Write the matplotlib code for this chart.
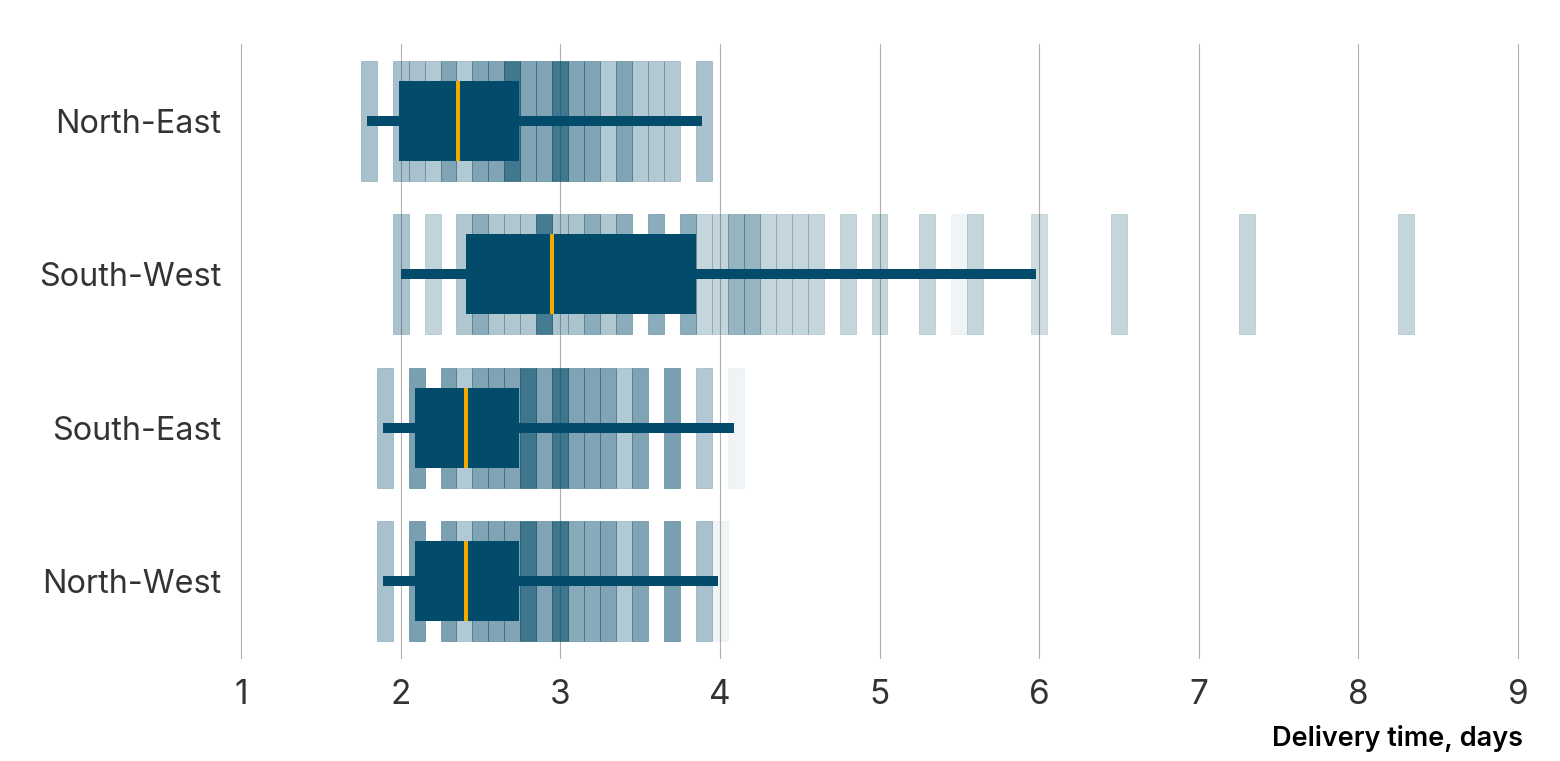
import numpy as np
import matplotlib.pyplot as plt

plt.rcParams['font.family'] = ['Inter', 'DejaVu Sans']

regions = ["North-East", "South-West", "South-East", "North-West"]

# histogram strips: bin centres (days) and shading weight per bin
ne_bins = [1.8, 2.0, 2.1, 2.2, 2.3, 2.4, 2.5, 2.6, 2.7, 2.8, 2.9, 3.0, 3.1, 3.2, 3.3, 3.4, 3.5, 3.6, 3.7, 3.9]
ne_weight = [.34, .34, .34, .30, .50, .30, .50, .50, .75, .50, .50, .75, .50, .50, .30, .50, .30, .30, .30, .34]

sw_bins = [2.0, 2.2, 2.4, 2.5, 2.6, 2.7, 2.8, 2.9, 3.0, 3.1, 3.2, 3.3, 3.4, 3.6, 3.8, 3.9, 4.0, 4.1,
           4.2, 4.3, 4.4, 4.5, 4.6, 4.8, 5.0, 5.3, 5.5, 5.6, 6.0, 6.5, 7.3, 8.3]
sw_weight = [.33, .24, .31, .46, .31, .31, .31, .73, .33, .33, .46, .31, .46, .46, .46, .23, .23, .41,
             .41, .23, .23, .23, .23, .23, .23, .23, .06, .23, .19, .23, .23, .23]

se_bins = [1.9, 2.1, 2.3, 2.4, 2.5, 2.6, 2.7, 2.8, 2.9, 3.0, 3.1, 3.2, 3.3, 3.4, 3.5, 3.7, 3.9, 4.1]
se_weight = [.34, .53, .52, .30, .50, .50, .50, .76, .50, .76, .50, .50, .50, .30, .50, .53, .30, .06]

nw_bins = [1.9, 2.1, 2.3, 2.4, 2.5, 2.6, 2.7, 2.8, 2.9, 3.0, 3.1, 3.2, 3.3, 3.4, 3.5, 3.7, 3.9, 4.0]
nw_weight = [.34, .53, .52, .30, .50, .50, .50, .76, .50, .76, .47, .47, .50, .30, .50, .53, .34, .06]

# box stats: whisker low, q1, median, q3, whisker high
ne_box = [1.79, 1.99, 2.36, 2.74, 3.89]
sw_box = [2.00, 2.41, 2.95, 3.85, 5.98]
se_box = [1.89, 2.09, 2.41, 2.74, 4.09]
nw_box = [1.89, 2.09, 2.41, 2.74, 3.99]

strips = [(ne_bins, ne_weight), (sw_bins, sw_weight), (se_bins, se_weight), (nw_bins, nw_weight)]
boxes = [ne_box, sw_box, se_box, nw_box]

teal = "#024b6a"
orange = "#f2a900"

fig = plt.figure(figsize=(15.6, 7.61), dpi=100)
ax = fig.add_axes([241 / 1560, 103 / 761, 1277 / 1560, 614 / 761])

for i, ((bins, w), (lo, q1, med, q3, hi)) in enumerate(zip(strips, boxes)):
    for b, a in zip(bins, w):
        ax.bar(b, 0.783, width=0.1, bottom=i - 0.3915, color=teal, alpha=a,
               edgecolor=teal, linewidth=0.5, zorder=2)
    ax.barh(i, hi - lo, left=lo, height=0.065, color=teal, linewidth=0, zorder=3)
    ax.barh(i, q3 - q1, left=q1, height=0.52, color=teal, linewidth=0, zorder=4)
    ax.barh(i, 0.025, left=med - 0.0125, height=0.52, color=orange, linewidth=0, zorder=5)

ax.set_xlim(1, 9)
ax.set_ylim(3.5, -0.5)
ax.set_xticks(range(1, 10))
ax.set_yticks(range(len(regions)))
ax.set_yticklabels(regions)
ax.tick_params(axis='x', length=0, pad=15, labelsize=24, labelcolor='#333333')
ax.tick_params(axis='y', length=0, pad=14, labelsize=23.3, labelcolor='#333333')
ax.grid(axis='x', color='#b0b0b0', linewidth=0.8, zorder=0)
ax.set_axisbelow(True)
for gl in ax.get_xgridlines():
    gl.set_clip_on(False)
for s in ax.spines.values():
    s.set_visible(False)

fig.text(1523 / 1560, 1 - 739 / 761, "Delivery time, days", ha='right', va='center',
         fontsize=19.5, fontweight='semibold', color='black')

fig.savefig("out.png", dpi=100)
